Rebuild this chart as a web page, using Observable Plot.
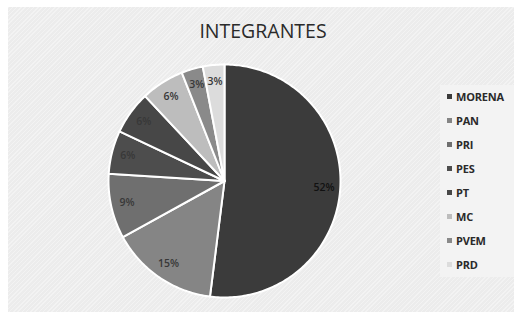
<!DOCTYPE html>
<html>
<head>
<meta charset="utf-8">
<script src="https://cdn.jsdelivr.net/npm/d3@7"></script>
<script src="https://cdn.jsdelivr.net/npm/@observablehq/plot@0.6"></script>
<style>
  html, body { margin: 0; padding: 0; background: #ffffff; }
  #wrap { position: relative; width: 514px; height: 312px; overflow: hidden; font-family: "Open Sans", Lato, sans-serif; }
  #bg { position: absolute; left: 8px; top: 7px; right: 0; bottom: 0;
        background-color: #ececec;
        background-image: repeating-linear-gradient(135deg, rgba(255,255,255,0.35) 0px, rgba(255,255,255,0.35) 1px, rgba(0,0,0,0) 1px, rgba(0,0,0,0) 3px); }
  #title { position: absolute; left: 0; width: 526px; top: 17px; text-align: center; font-size: 19.5px; color: #2a2a2a; }
  #chart { position: absolute; left: 0; top: 0; }
  #legend { position: absolute; left: 440px; top: 85px; width: 74px; height: 192px; background: #f3f3f3; }
  .item { position: absolute; left: 7px; height: 14px; font-size: 11px; font-weight: 700; color: #2a2a2a; line-height: 14px; white-space: nowrap; letter-spacing: -0.2px; }
  .sw { display: inline-block; width: 5px; height: 5px; margin-right: 4px; vertical-align: 2px; }
</style>
</head>
<body>
<div id="wrap">
  <div id="bg"></div>
  <div id="title">INTEGRANTES</div>
  <div id="chart"></div>
  <div id="legend"></div>
</div>
<script>
const parties = ["MORENA", "PAN", "PRI", "PES", "PT", "MC", "PVEM", "PRD"];
const shares = [52, 15, 9, 6, 6, 6, 3, 3];
const colors = ["#3b3b3b", "#858585", "#6f6f6f", "#4d4d4d", "#474747", "#bdbdbd", "#8a8a8a", "#dcdcdc"];
const labelColors = ["#111111", "#383838", "#383838", "#383838", "#383838", "#383838", "#383838", "#383838"];

const rows = parties.map((p, i) => ({party: p, share: shares[i], color: colors[i], labelColor: labelColors[i]}));
const arcs = d3.pie().sort(null).value(d => d.share)(rows);

// polygon outline for each slice in unit-circle data space
const pts = [];
arcs.forEach(a => {
  pts.push({party: a.data.party, color: a.data.color, x: 0, y: 0});
  const n = Math.max(2, Math.ceil((a.endAngle - a.startAngle) / (Math.PI / 180)));
  for (let k = 0; k <= n; k++) {
    const t = a.startAngle + (a.endAngle - a.startAngle) * k / n;
    pts.push({party: a.data.party, color: a.data.color, x: Math.sin(t), y: Math.cos(t)});
  }
});
const labels = arcs.map(a => {
  const m = (a.startAngle + a.endAngle) / 2;
  return {text: a.data.share + "%", x: 0.86 * Math.sin(m), y: 0.86 * Math.cos(m), c: a.data.labelColor};
});

const chart = Plot.plot({
  width: 514,
  height: 312,
  margin: 0,
  style: {background: "transparent", overflow: "visible"},
  x: {domain: [-1, 1], range: [108, 340], axis: null},
  y: {domain: [-1, 1], range: [297, 64], axis: null},
  marks: [
    Plot.line(pts, {x: "x", y: "y", z: "party", fill: "color", stroke: "white", strokeWidth: 2, strokeLinejoin: "round", curve: "linear-closed"}),
    Plot.text(labels, {x: "x", y: "y", text: "text", fill: "c", fontSize: 10.5, fontWeight: 600, fontFamily: "Open Sans, sans-serif"})
  ]
});
document.getElementById("chart").appendChild(chart);

const lg = document.getElementById("legend");
parties.forEach((p, i) => {
  const d = document.createElement("div");
  d.className = "item";
  d.style.top = (5 + i * 24) + "px";
  d.innerHTML = `<span class="sw" style="background:${colors[i]}"></span>${p}`;
  lg.appendChild(d);
});
</script>
</body>
</html>
